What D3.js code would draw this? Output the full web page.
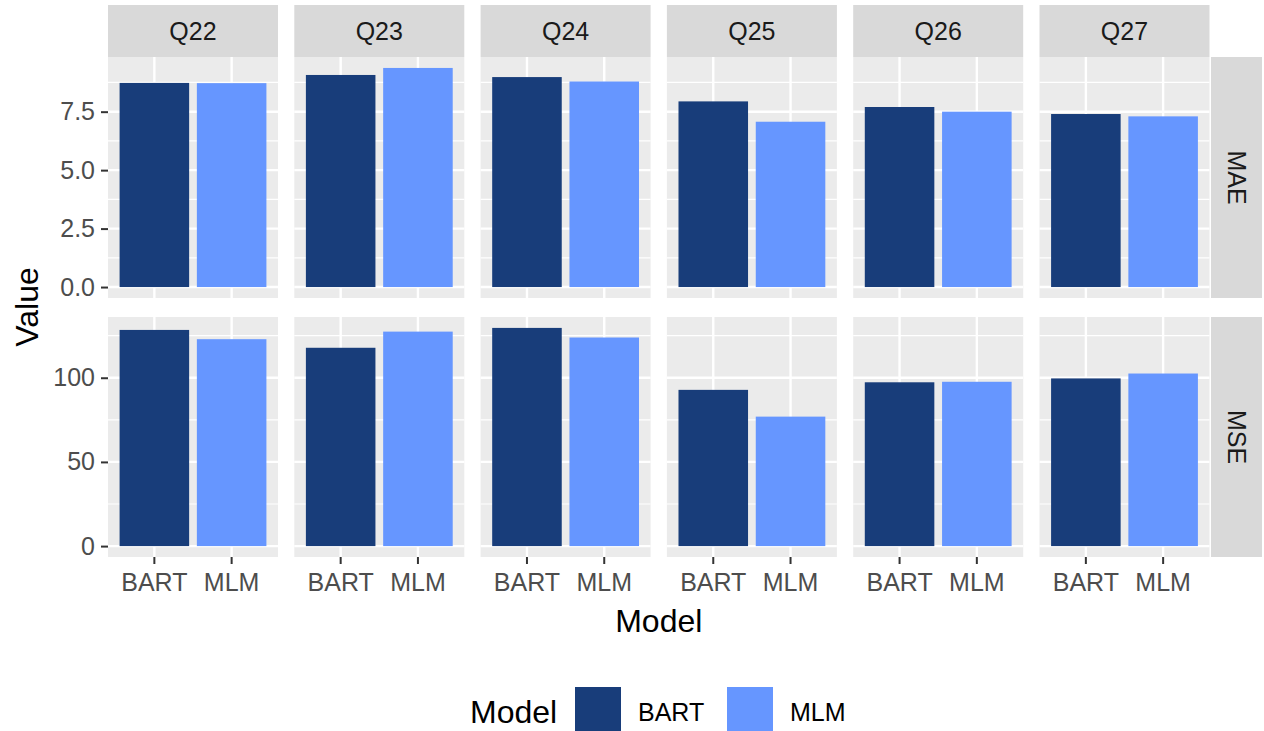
<!DOCTYPE html>
<html>
<head>
<meta charset="utf-8">
<script src="https://cdn.jsdelivr.net/npm/d3@7/dist/d3.min.js"></script>
<style>
  html, body { margin: 0; padding: 0; background: #ffffff; }
  svg { display: block; }
  text { font-family: "Liberation Sans", Arial, sans-serif; }
</style>
</head>
<body>
<svg id="chart" width="1264" height="731"></svg>
<script>
// Questions (facet columns), models and metrics (facet rows)
const questions = ["Q22", "Q23", "Q24", "Q25", "Q26", "Q27"];
const models = ["BART", "MLM"];
const metrics = ["MAE", "MSE"];

// Error values per question
const maeBART = [8.73, 9.07, 8.98, 7.94, 7.70, 7.40];
const maeMLM  = [8.72, 9.37, 8.79, 7.07, 7.50, 7.30];
const mseBART = [128.4, 117.8, 129.6, 92.8, 97.3, 99.6];
const mseMLM  = [122.9, 127.4, 123.9, 76.9, 97.6, 102.5];

// Axis breaks per metric row
const maeTicks = [0, 2.5, 5, 7.5];
const mseTicks = [0, 50, 100];

const colors = { BART: "#183d7a", MLM: "#6696ff" };

const svg = d3.select("#chart");

// Layout of the facet grid
const colLeft0 = 108, panelW = 170, colStep = 186.3;
const stripTop = 5, stripH = 52;
const rowBox = [
  { top: 57, bottom: 298 },
  { top: 317, bottom: 557 }
];
const rightStripX = 1211, rightStripW = 51;

const rows = [
  { name: "MAE", bart: maeBART, mlm: maeMLM, ticks: maeTicks, fmt: d3.format(".1f") },
  { name: "MSE", bart: mseBART, mlm: mseMLM, ticks: mseTicks, fmt: d3.format("d") }
];

const axisTextColor = "#4d4d4d";
const fsAxis = 25, fsTitle = 32;

rows.forEach((row, ri) => {
  const box = rowBox[ri];
  const maxV = d3.max(row.bart.concat(row.mlm));
  const y = d3.scaleLinear()
    .domain([-0.05 * maxV, 1.05 * maxV])
    .range([box.bottom, box.top]);

  // minor breaks halfway between majors
  const step = row.ticks[1] - row.ticks[0];
  const minor = [];
  for (let v = row.ticks[0] + step / 2; v < y.domain()[1]; v += step) minor.push(v);

  questions.forEach((q, qi) => {
    const x0 = colLeft0 + qi * colStep;
    const x = d3.scaleBand().domain(models)
      .range([x0, x0 + panelW])
      .paddingInner(0.1).paddingOuter(0.15);

    const g = svg.append("g");
    g.append("rect")
      .attr("x", x0).attr("y", box.top)
      .attr("width", panelW).attr("height", box.bottom - box.top)
      .attr("fill", "#ebebeb");

    // grid lines
    g.selectAll(".minor").data(minor).enter().append("line")
      .attr("x1", x0).attr("x2", x0 + panelW)
      .attr("y1", d => y(d)).attr("y2", d => y(d))
      .attr("stroke", "#ffffff").attr("stroke-width", 1.2);
    g.selectAll(".major").data(row.ticks).enter().append("line")
      .attr("x1", x0).attr("x2", x0 + panelW)
      .attr("y1", d => y(d)).attr("y2", d => y(d))
      .attr("stroke", "#ffffff").attr("stroke-width", 2.4);
    g.selectAll(".vmajor").data(models).enter().append("line")
      .attr("x1", d => x(d) + x.bandwidth() / 2).attr("x2", d => x(d) + x.bandwidth() / 2)
      .attr("y1", box.top).attr("y2", box.bottom)
      .attr("stroke", "#ffffff").attr("stroke-width", 2.4);

    // bars
    const vals = [
      { m: "BART", v: row.bart[qi] },
      { m: "MLM", v: row.mlm[qi] }
    ];
    g.selectAll(".bar").data(vals).enter().append("rect")
      .attr("x", d => x(d.m))
      .attr("width", x.bandwidth())
      .attr("y", d => y(d.v))
      .attr("height", d => y(0) - y(d.v))
      .attr("fill", d => colors[d.m]);

    // column strips on the top row
    if (ri === 0) {
      svg.append("rect")
        .attr("x", x0).attr("y", stripTop)
        .attr("width", panelW).attr("height", stripH)
        .attr("fill", "#d9d9d9");
      svg.append("text")
        .attr("x", x0 + panelW / 2).attr("y", stripTop + stripH / 2)
        .attr("dy", "0.35em")
        .attr("text-anchor", "middle")
        .attr("font-size", fsAxis).attr("fill", "#1a1a1a")
        .text(q);
    }

    // x axis on the bottom row
    if (ri === rows.length - 1) {
      const ax = svg.append("g").attr("transform", `translate(0,${box.bottom})`)
        .call(d3.axisBottom(x).tickSize(7).tickPadding(9));
      ax.select(".domain").remove();
      ax.selectAll(".tick line").attr("stroke", "#333333").attr("stroke-width", 2);
      ax.selectAll(".tick text")
        .attr("font-size", fsAxis).attr("fill", axisTextColor)
        .attr("font-family", "Liberation Sans, Arial, sans-serif");
    }
  });

  // y axis for the row
  const ay = svg.append("g").attr("transform", `translate(${colLeft0},0)`)
    .call(d3.axisLeft(y).tickValues(row.ticks).tickFormat(row.fmt).tickSize(7).tickPadding(6));
  ay.select(".domain").remove();
  ay.selectAll(".tick line").attr("stroke", "#333333").attr("stroke-width", 2);
  ay.selectAll(".tick text")
    .attr("font-size", fsAxis).attr("fill", axisTextColor)
    .attr("font-family", "Liberation Sans, Arial, sans-serif");

  // row strip on the right
  svg.append("rect")
    .attr("x", rightStripX).attr("y", box.top)
    .attr("width", rightStripW).attr("height", box.bottom - box.top)
    .attr("fill", "#d9d9d9");
  const cy = (box.top + box.bottom) / 2;
  svg.append("text")
    .attr("transform", `translate(${rightStripX + rightStripW / 2},${cy}) rotate(90)`)
    .attr("dy", "0.35em")
    .attr("text-anchor", "middle")
    .attr("font-size", fsAxis).attr("fill", "#1a1a1a")
    .text(row.name);
});

// axis titles
svg.append("text")
  .attr("x", colLeft0 + (5 * colStep + panelW) / 2).attr("y", 632)
  .attr("text-anchor", "middle")
  .attr("font-size", fsTitle).attr("fill", "#000")
  .text("Model");
svg.append("text")
  .attr("transform", `translate(38,${(rowBox[0].top + rowBox[1].bottom) / 2}) rotate(-90)`)
  .attr("text-anchor", "middle")
  .attr("font-size", fsTitle).attr("fill", "#000")
  .text("Value");

// legend
const legend = svg.append("g");
legend.append("text")
  .attr("x", 470).attr("y", 723)
  .attr("font-size", fsTitle).attr("fill", "#000")
  .text("Model");
const keyX = [575, 727];
models.forEach((m, i) => {
  legend.append("rect")
    .attr("x", keyX[i]).attr("y", 687)
    .attr("width", 46).attr("height", 46)
    .attr("fill", colors[m]);
  legend.append("text")
    .attr("x", keyX[i] + 63).attr("y", 721)
    .attr("font-size", fsAxis).attr("fill", "#000")
    .text(m);
});
</script>
</body>
</html>
